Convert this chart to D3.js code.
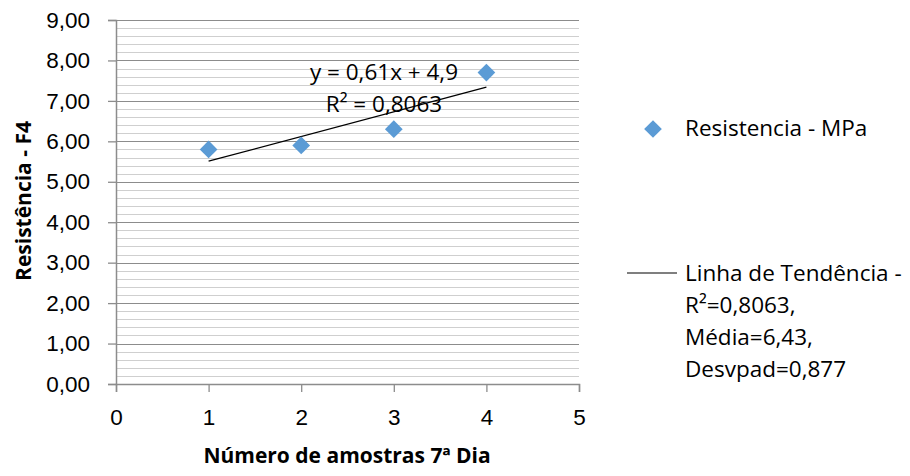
<!DOCTYPE html>
<html>
<head>
<meta charset="utf-8">
<script src="https://cdn.jsdelivr.net/npm/d3@7"></script>
<style>
  html, body { margin: 0; padding: 0; background: #fff; }
  svg { display: block; font-family: "Open Sans", "Liberation Sans", sans-serif; }
</style>
</head>
<body>
<svg id="chart" width="910" height="476"></svg>
<script>
// Compressive strength of samples on day 7
const samples = [1, 2, 3, 4];
const strength = [5.8, 5.9, 6.3, 7.7];
const xTicks = [0, 1, 2, 3, 4, 5];
const yTicks = [0, 1, 2, 3, 4, 5, 6, 7, 8, 9];
const trendSlope = 0.61;
const trendIntercept = 4.9;
const trendR2 = "0,8063";
const legendSeries = "Resistencia - MPa";
const legendTrend = ["Linha de Tendência -", "R²=0,8063,", "Média=6,43,", "Desvpad=0,877"];

const svg = d3.select("#chart");
const plotL = 116, plotR = 579, plotT = 20, plotB = 384;
const fontSize = 22.5;
const titleSize = 21;

const x = d3.scaleLinear().domain([0, 5]).range([plotL, plotR]);
const y = d3.scaleLinear().domain([0, 9]).range([plotB, plotT]);

const fmt = v => d3.format(".2f")(v).replace(".", ",");

// minor gridlines every 0.2
const minor = d3.range(0, 9.001, 0.2).filter(v => Math.abs(v - Math.round(v)) > 1e-6);
svg.append("g").selectAll("line").data(minor).join("line")
  .attr("x1", plotL).attr("x2", plotR)
  .attr("y1", d => Math.round(y(d)) + 0.5).attr("y2", d => Math.round(y(d)) + 0.5)
  .attr("stroke", "#cfcfcf").attr("stroke-width", 1);

// major gridlines
svg.append("g").selectAll("line").data(yTicks.slice(1)).join("line")
  .attr("x1", plotL).attr("x2", plotR)
  .attr("y1", d => Math.round(y(d)) + 0.5).attr("y2", d => Math.round(y(d)) + 0.5)
  .attr("stroke", "#8c8c8c").attr("stroke-width", 1);

// y axis
const yAxis = svg.append("g").attr("transform", `translate(${plotL},0)`)
  .call(d3.axisLeft(y).tickValues(yTicks).tickFormat(fmt).tickSize(8).tickPadding(18));
yAxis.select(".domain").attr("stroke", "#8c8c8c").attr("stroke-width", 1.5);
yAxis.selectAll(".tick line").attr("stroke", "#8c8c8c").attr("stroke-width", 1.3);
yAxis.selectAll("text").attr("font-size", fontSize).attr("fill", "#000").attr("font-family", "inherit");

// x axis
const xAxis = svg.append("g").attr("transform", `translate(0,${plotB})`)
  .call(d3.axisBottom(x).tickValues(xTicks).tickFormat(d3.format("d")).tickSize(8).tickPadding(17));
xAxis.select(".domain").attr("stroke", "#8c8c8c").attr("stroke-width", 1.5);
xAxis.selectAll(".tick line").attr("stroke", "#8c8c8c").attr("stroke-width", 1.3);
xAxis.selectAll("text").attr("font-size", fontSize).attr("fill", "#000").attr("font-family", "inherit");

// trendline over the sample range
const trend = d3.extent(samples).map(s => [s, trendSlope * s + trendIntercept]);
svg.append("line")
  .attr("x1", x(trend[0][0])).attr("y1", y(trend[0][1]))
  .attr("x2", x(trend[1][0])).attr("y2", y(trend[1][1]))
  .attr("stroke", "#000").attr("stroke-width", 1.2);

// points
const diamond = d3.symbol().type(d3.symbolDiamond2).size(200);
svg.append("g").selectAll("path").data(samples).join("path")
  .attr("d", diamond)
  .attr("transform", (d, i) => `translate(${x(d)},${y(strength[i])})`)
  .attr("fill", "#5b9bd5");

// regression equation
svg.append("text").attr("x", 384).attr("y", 80).attr("text-anchor", "middle")
  .attr("font-size", fontSize)
  .text(`y = ${String(trendSlope).replace(".", ",")}x + ${String(trendIntercept).replace(".", ",")}`);
svg.append("text").attr("x", 384).attr("y", 112).attr("text-anchor", "middle")
  .attr("font-size", fontSize)
  .text(`R² = ${trendR2}`);

// axis titles
svg.append("text").attr("x", 347).attr("y", 463).attr("text-anchor", "middle")
  .attr("font-size", titleSize).attr("font-weight", "bold")
  .text("Número de amostras 7ª Dia");
svg.append("text").attr("transform", "translate(31,201) rotate(-90)").attr("text-anchor", "middle")
  .attr("font-size", titleSize).attr("font-weight", "bold")
  .text("Resistência - F4");

// legend
svg.append("path").attr("d", diamond).attr("transform", "translate(653,129)").attr("fill", "#5b9bd5");
svg.append("text").attr("x", 685).attr("y", 136).attr("font-size", fontSize).text(legendSeries);
svg.append("line").attr("x1", 627).attr("x2", 677).attr("y1", 273).attr("y2", 273)
  .attr("stroke", "#000").attr("stroke-width", 1.2);
svg.append("g").selectAll("text").data(legendTrend).join("text")
  .attr("x", 685).attr("y", (d, i) => 281 + i * 32)
  .attr("font-size", fontSize).text(d => d);
</script>
</body>
</html>
